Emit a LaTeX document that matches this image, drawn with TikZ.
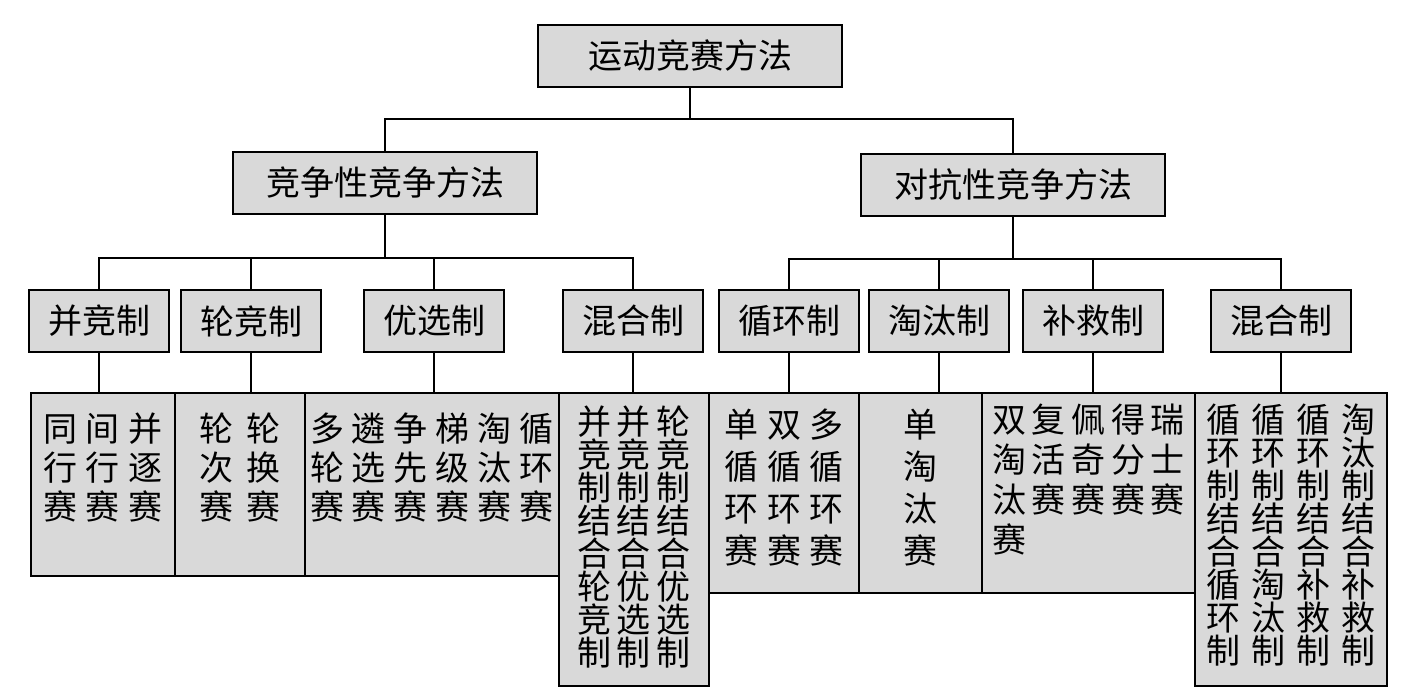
\documentclass[tikz,border=0pt]{standalone}
\usepackage{fontspec}
\setmainfont{Noto Sans CJK SC}
\usetikzlibrary{positioning}
\begin{document}
\begin{tikzpicture}[x=0.5pt,y=-0.5pt,line width=1pt,
  every node/.style={inner sep=0pt,font=\fontsize{17}{20}\selectfont},
  grbox/.style={draw,fill=gray!30},
  headbox/.style={grbox,minimum width=152pt,minimum height=31pt},
  subbox/.style={grbox,minimum width=70pt,minimum height=31pt},
  leafbox/.style 2 args={grbox,anchor=north west,minimum width=#1,minimum height=#2},
  leaftext/.style 2 args={align=left,font={\fontsize{17}{#2}\selectfont\spaceskip=#1\relax}}]
\useasboundingbox (0,0) rectangle (1404,691);
% top levels
\node[headbox] (root) at (690,56) {运动竞赛方法};
\node[headbox] (comp) at (385,183) {竞争性竞争方法};
\node[headbox] (anta) at (1013,185) {对抗性竞争方法};
\draw (root.south) -- ++(0,31) -| (comp.north);
\draw (root.south) -- ++(0,31) -| (anta.north);
% third level
\node[subbox] (bj) at (99,321) {并竞制};
\node[subbox] (lj) at (251,321) {轮竞制};
\node[subbox] (yx) at (434,321) {优选制};
\node[subbox] (hh1) at (633,321) {混合制};
\node[subbox] (xh) at (789,321) {循环制};
\node[subbox] (tt) at (939,321) {淘汰制};
\node[subbox] (bc) at (1093,321) {补救制};
\node[subbox] (hh2) at (1281,321) {混合制};
\foreach \n in {bj,lj,yx,hh1} \draw (comp.south) -- ++(0,43) -| (\n.north);
\foreach \n in {xh,tt,bc,hh2} \draw (anta.south) -- ++(0,42) -| (\n.north);
% leaves
\node[leafbox={72pt}{91.5pt}] (d1) at (30,392) {};
\node[leafbox={65pt}{91.5pt}] (d2) at (174,392) {};
\node[leafbox={127pt}{91.5pt}] (d3) at (304,392) {};
\node[leafbox={75pt}{146.5pt}] (d4) at (558,392) {};
\node[leafbox={75pt}{100pt}] (d5) at (708,392) {};
\node[leafbox={61.5pt}{100pt}] (d6) at (858,392) {};
\node[leafbox={106.5pt}{100pt}] (d7) at (981,392) {};
\node[leafbox={96pt}{146.5pt}] (d8) at (1194,392) {};
\node[leaftext={4.5pt}{19.5pt},below=10pt of d1.north] (t1) {同 间 并\\行 行 逐\\赛 赛 赛};
\node[leaftext={6.3pt}{19.5pt},below=10pt of d2.north] (t2) {轮 轮\\次 换\\赛 赛};
\node[leaftext={4pt}{19.5pt},below=10pt of d3.north] (t3) {多 遴 争 梯 淘 循\\轮 选 先 级 汰 环\\赛 赛 赛 赛 赛 赛};
\node[leaftext={3pt}{16.5pt},below=6.5pt of d4.north] (t4) {并 并 轮\\竞 竞 竞\\制 制 制\\结 结 结\\合 合 合\\轮 优 优\\竞 选 选\\制 制 制};
\node[leaftext={4.25pt}{21pt},below=8pt of d5.north] (t5) {单 双 多\\循 循 循\\环 环 环\\赛 赛 赛};
\node[leaftext={3pt}{21pt},below=8pt of d6.north] (t6) {单\\淘\\汰\\赛};
\node[leaftext={2.8pt}{20pt},below=5.5pt of d7.north] (t7) {双 复 佩 得 瑞\\淘 活 奇 分 士\\汰 赛 赛 赛 赛\\赛};
\node[leaftext={5.5pt}{16.5pt},below=5.5pt of d8.north] (t8) {循 循 循 淘\\环 环 环 汰\\制 制 制 制\\结 结 结 结\\合 合 合 合\\循 淘 补 补\\环 汰 救 救\\制 制 制 制};
\foreach \a/\b in {bj/d1,lj/d2,yx/d3,hh1/d4,xh/d5,tt/d6,bc/d7,hh2/d8}
  \draw (\a.south) -- (\a.south |- \b.north);
\end{tikzpicture}
\end{document}
